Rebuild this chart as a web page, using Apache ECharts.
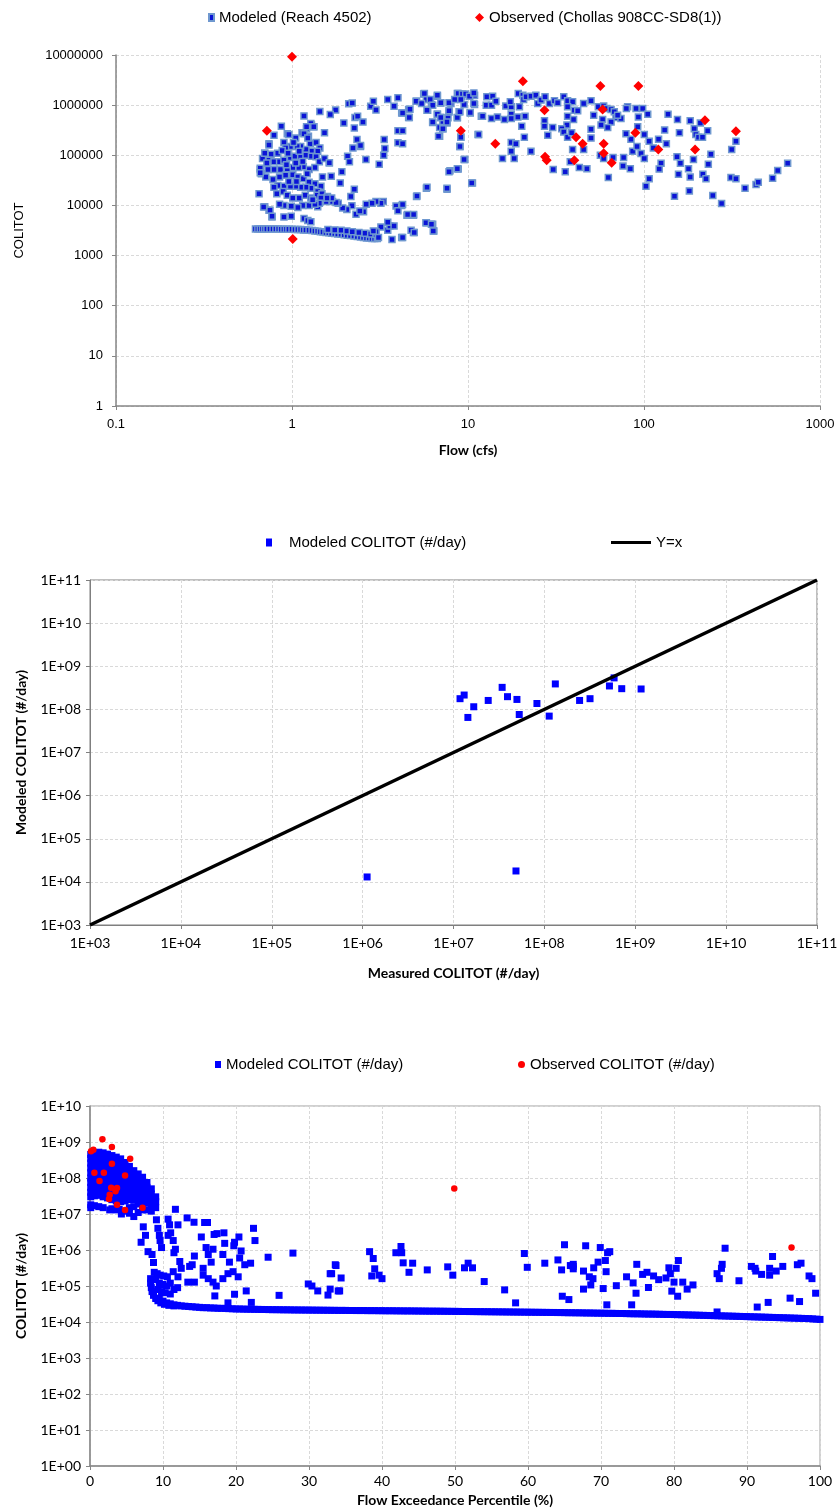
<!DOCTYPE html>
<html><head><meta charset="utf-8">
<script src="https://cdn.jsdelivr.net/npm/echarts@6/dist/echarts.min.js"></script>
<style>html,body{margin:0;padding:0;background:#fff}#c{width:839px;height:1512px}</style>
</head><body><div id="c"></div>
<script>
// ---------- tick labels ----------
const flowTickLabels = ['0.1','1','10','100','1000'];
const colTickLabels = ['1','10','100','1000','10000','100000','1000000','10000000'];
const sciTickLabels = ['1E+00','1E+01','1E+02','1E+03','1E+04','1E+05','1E+06','1E+07','1E+08','1E+09','1E+10','1E+11'];

// ---------- chart 1 : COLITOT vs Flow ----------
const modeledCluster = [[0.79,2.5e5],[0.90,1.8e5],[0.94,2.7e5],[0.96,2.6e5],[1.05,2.2e5],[1.14,2.8e5],[1.21,3.4e5],[1.29,4.0e5],[1.33,3.7e5],[1.24,2.4e5],[1.27,1.7e5],[1.37,1.8e5],[1.44,1.4e5],[1.40,1.2e5],[1.29,1.2e5],[1.20,1.3e5],[1.12,1.5e5],[1.07,1.5e5],[0.98,1.5e5],[0.92,1.4e5],[0.83,1.1e5],[0.76,1.05e5],[0.70,1.1e5],[0.68,8.6e4],[0.74,8.0e4],[0.79,7.4e4],[0.85,7.4e4],[0.90,8.0e4],[0.98,9.0e4],[1.04,9.6e4],[1.12,9.6e4],[1.20,1.0e5],[1.29,9.6e4],[1.37,9.3e4],[1.43,7.4e4],[1.35,5.7e4],[1.25,5.2e4],[1.16,5.9e4],[1.09,5.7e4],[1.01,5.7e4],[0.94,5.4e4],[0.86,5.2e4],[0.79,5.2e4],[0.73,5.2e4],[0.66,5.2e4],[0.67,4.3e4],[0.71,3.7e4],[0.78,3.3e4],[0.85,3.7e4],[0.92,4.0e4],[1.01,4.1e4],[1.08,3.7e4],[1.16,3.4e4],[1.25,2.9e4],[1.35,2.7e4],[1.46,2.4e4],[1.40,1.9e4],[1.28,2.2e4],[1.20,2.3e4],[1.12,2.3e4],[1.05,2.4e4],[0.98,2.4e4],[0.90,2.4e4],[0.83,2.5e4],[0.79,2.3e4],[0.82,1.7e4],[0.89,1.9e4],[0.94,1.6e4],[1.01,1.4e4],[1.10,1.4e4],[1.19,1.6e4],[1.28,1.4e4],[1.39,1.6e4],[1.48,1.7e4],[1.59,1.5e4],[1.70,1.2e4],[1.56,1.2e4],[1.45,1.2e4],[1.35,1.06e4],[1.25,1.0e4],[1.15,1.0e4],[1.08,9.1e3],[0.99,9.6e3],[0.90,1.0e4],[0.85,1.06e4],[0.74,8.0e3],[0.70,9.4e3],[0.65,1.7e4],[0.77,5.9e3],[0.90,5.9e3],[0.99,6.1e3],[1.17,5.5e3],[1.23,5.0e3],[1.28,4.7e3],[1.40,9.4e3],[1.49,3.7e4],[1.67,3.8e4],[1.63,7.1e4],[1.53,8.6e4],[0.87,3.8e5],[0.74,1.7e5],[0.69,9.3e3],[0.75,8.0e3],[0.77,6.1e3],[0.66,5.5e4],[0.66,4.5e4],[0.74,1.6e5],[0.70,1.1e5],[0.72,7.0e4],[0.88,1.25e5],[1.02,1.8e5],[1.10,1.2e5],[0.95,1.1e5],[1.05,7.0e4],[0.93,6.5e4],[1.15,7.5e4],[1.22,4.3e4],[0.96,3.0e4],[1.06,3.0e4]];
const modeledBand = [[0.62,3400],[0.64,3400],[0.66,3400],[0.68,3400],[0.70,3400],[0.72,3400],[0.75,3400],[0.78,3400],[0.81,3400],[0.84,3400],[0.87,3350],[0.90,3350],[0.93,3350],[0.96,3350],[1.0,3350],[1.04,3300],[1.08,3300],[1.12,3300],[1.16,3250],[1.2,3250],[1.25,3200],[1.3,3150],[1.35,3100],[1.4,3050],[1.45,3000],[1.5,2950],[1.56,2900],[1.62,2850],[1.68,2800],[1.75,2750],[1.82,2700],[1.9,2650],[1.98,2600],[2.06,2550],[2.15,2500],[2.25,2450],[2.35,2400],[2.45,2350],[2.55,2300],[2.65,2250],[2.75,2250],[2.85,2200],[2.95,2200],[3.05,2200],[1.6,3300],[1.75,3250],[1.9,3200],[2.05,3100],[2.2,3000],[2.4,2900],[2.6,2800],[2.8,2700],[3.0,2650]];
const modeledMid = [[2.1,1.07e6],[2.2,1.1e6],[2.8,9.5e5],[2.9,1.2e6],[3.0,8e5],[3.5,1.3e6],[4.0,1.4e6],[3.8,9.5e5],[4.2,7e5],[4.6,8.2e5],[4.6,5.7e5],[5.1,1.2e6],[5.6,1.66e6],[5.8,1.3e6],[6.2,1.03e6],[6.7,1.5e6],[7.0,1.1e6],[5.9,7.9e5],[6.7,6.6e5],[7.0,5.7e5],[6.3,4.5e5],[7.2,4.4e5],[7.6,4.4e5],[7.7,5.6e5],[7.8,7.3e5],[6.9,2.4e5],[7.2,3.4e5],[8.7,1.7e6],[9.2,1.5e6],[9.5,1.03e6],[8.9,7.4e5],[10.3,7e5],[10.9,1.03e6],[10.9,1.58e6],[10.2,1.5e6],[8.7,5.6e5],[9.1,2.3e5],[9.0,1.5e5],[9.6,8.2e4],[8.8,5.3e4],[7.9,4.9e4],[11.4,2.6e5],[10.6,2.8e4],[11.9,6e5],[7.6,2.1e4],[5.8,2.2e4],[5.1,1.5e4],[5.8,4500],[6.3,4200],[6.4,3100],[4.9,2900],[4.2,2300],[4.5,6400],[4.9,6400],[3.7,2100],[3.5,3200],[3.6,3900],[3.8,3900],[3.5,4600],[3.2,3700],[3.0,3000],[2.9,3100],[3.1,2300],[3.9,9700],[4.2,1.0e4],[4.0,7800],[3.3,1.2e4],[3.2,1.1e4],[3.0,1.2e4],[2.85,1.1e4],[2.64,1.05e4],[2.55,7500],[2.31,6700],[2.43,7700],[2.19,9900],[2.05,8300],[1.94,8900],[1.83,1.1e4],[1.78,1.15e4],[1.68,1.4e4],[1.58,1.4e4],[1.46,1.4e4],[1.43,1.1e4],[1.35,1.05e4],[1.31,1.3e4],[2.16,1.5e4],[2.26,2.1e4],[1.92,4.7e4],[1.88,2.8e4],[2.07,9.6e4],[2.12,7.4e4],[2.34,2.06e5],[2.45,1.5e5],[2.63,8.2e4],[2.28,5.7e5],[2.36,6.0e5],[2.53,4.6e5],[2.26,3.5e5],[1.97,4.4e5],[3.34,2.06e5],[3.37,1.37e5],[3.32,1e5],[3.13,6.6e4],[4.0,3.1e5],[4.0,1.77e5],[2.22,1.4e5],[2.45,1.57e5],[1.63,7.1e4],[1.53,2.8e5],[1.44,7.5e5],[1.77,8e5],[1.65,6.5e5],[1.17,6.1e5],[1.28,4.3e5],[1.33,3.7e5],[1.21,3.7e5],[1.17,2.7e5],[1.23,2.2e5]];
const modeledHigh = [[5.07,1.2e6],[5.45,1.08e6],[5.65,1.71e6],[6.1,1.3e6],[6.3,1.0e6],[6.7,1.58e6],[7.0,1.11e6],[5.85,7.9e5],[4.68,8.3e5],[4.64,5.7e5],[4.25,7.0e5],[4.25,3.1e5],[4.25,1.7e5],[6.3,4.6e5],[6.7,6.6e5],[7.0,5.7e5],[7.6,4.6e5],[6.9,3.6e5],[7.2,3.4e5],[6.8,2.4e5],[7.8,7.7e5],[8.0,1.08e6],[8.7,5.7e5],[9.0,7.4e5],[8.8,1.71e6],[9.3,1.66e6],[9.7,1.66e6],[10.2,1.51e6],[10.8,1.75e6],[10.8,1.08e6],[10.3,7.1e5],[9.1,2.3e5],[9.0,1.5e5],[9.5,8.2e4],[7.8,4.7e4],[8.7,5.4e4],[10.5,2.8e4],[7.6,2.2e4],[5.85,2.3e4],[5.13,1.55e4],[4.54,6.6e3],[4.91,6.6e3],[5.77,4.5e3],[6.2,4.2e3],[6.35,3.1e3],[4.75,3.2e3],[4.95,2.9e3],[4.25,2.3e3],[4.25,1.04e4],[7.8,1.11e6],[8.4,1.3e6],[9.1,1.3e6],
[11.5,2.6e5],[12.1,6.0e5],[12.7,1.0e6],[12.8,1.47e6],[13.8,1.51e6],[13.6,1.0e6],[14.4,1.2e6],[13.6,5.4e5],[14.7,5.8e5],[16.1,5.2e5],[16.4,9.6e5],[17.6,9.3e5],[17.4,1.17e6],[17.6,6.6e5],[17.6,5.4e5],[19.3,1.71e6],[20.5,1.58e6],[20.7,1.3e6],[21.4,1.47e6],[19.6,9.3e5],[19.2,5.8e5],[21.1,6.0e5],[20.2,3.8e5],[20.9,2.3e5],[17.6,1.8e5],[18.7,1.7e5],[17.6,1.2e5],[15.7,8.6e4],[18.3,8.6e4],[22.8,1.2e5],[22.8,1.51e6],[24.3,1.58e6],[24.9,1.08e6],[26.0,1.26e6],[27.4,1.47e6],[29.0,1.08e6],[31.0,1.22e6],[32.3,1.11e6],[35.0,1.47e6],[36.8,1.22e6],[39.3,1.17e6],[36.8,9.3e5],[36.8,6.0e5],[36.5,4.0e5],[27.2,4.9e5],[27.2,3.8e5],[30.3,3.6e5],[28.4,2.5e5],[34.1,3.4e5],[35.0,2.9e5],[36.8,2.3e5],[38.8,2.8e5],[39.8,5.2e5],[40.2,7.9e5],[42.0,7.7e5],[39.3,1.3e5],[38.1,7.4e4],[42.9,5.7e4],[47.4,5.4e4],[35.7,4.7e4],[30.5,5.2e4],
[45.4,1.08e6],[50.0,1.22e6],[51.8,6.3e5],[55.0,9.3e5],[58.2,5.2e5],[59.0,9.6e5],[61.6,8.6e5],[65.0,8.2e5],[67.8,7.4e5],[69.3,5.7e5],[74.0,5.4e5],[70.8,6.3e5],[65.0,4.6e5],[62.2,3.6e5],[57.0,4.0e5],[50.0,3.3e5],[50.0,2.2e5],[45.4,1.3e5],[56.5,1.0e5],[59.0,8.6e4],[66.7,9.0e4],[62.7,3.6e4],[76.6,9.0e4],[76.0,6.1e4],[83.6,5.4e4],[86.2,1.2e5],[84.3,2.1e5],[79.0,2.7e5],[91.3,1.5e5],[96.2,1.08e5],[100.4,8.6e4],[92.1,3.7e5],[92.9,5.8e5],[100.4,2.6e5],[98.3,8.6e5],[90.1,8.6e5],[80.7,9.3e5],[105,6.6e5],[107,1.9e5],[113,1.4e5],[121,2.1e5],[131,3.2e5],[134,1.7e5],[125,6.9e4],[122,5.3e4],[107,3.4e4],[102.6,2.4e4],[79.4,8.6e5],
[137,6.6e5],[155,5.2e5],[159,2.8e5],[154,9.3e4],[161,6.9e4],[157,4.2e4],[179,5.4e4],[183,3.7e4],[181,1.95e4],[149,1.53e4],[183,4.9e5],[193,3.4e5],[197,2.6e5],[204,2.3e5],[215,2.3e5],[209,4.4e5],[230,3.1e5],[191,8.2e4],[216,4.2e4],[225,3.4e4],[232,6.6e4],[240,1.05e5],[246,1.57e4],[276,1.09e4],[315,1.3e5],[333,1.9e5],[312,3.6e4],[333,3.4e4],[375,2.2e4],[433,2.6e4],[446,2.9e4],[538,3.5e4],[575,5.0e4],[655,6.9e4]];
const observedChollas = [[1.0,9.2e6],[0.72,3.07e5],[1.01,2140],[20.5,3.0e6],[27.2,7.9e5],[9.1,3.1e5],[14.3,1.7e5],[27.4,9.3e4],[28.0,8.0e4],[40.2,8.0e4],[41.1,2.3e5],[44.8,1.7e5],[56.5,2.4e6],[58.2,8.2e5],[59.0,1.7e5],[59.0,1.1e5],[65.5,7.1e4],[89.3,2.8e5],[92.9,2.4e6],[120.6,1.3e5],[195,1.3e5],[222,5.0e5],[333,3.0e5]];

// ---------- chart 2 : modeled vs measured ----------
const measuredModeled = [[1.18e7,1.77e8],[1.31e7,2.15e8],[1.44e7,6.5e7],[1.67e7,1.15e8],[2.41e7,1.61e8],[3.43e7,3.24e8],[3.93e7,1.97e8],[4.99e7,1.70e8],[5.29e7,7.6e7],[8.28e7,1.37e8],[1.13e8,6.98e7],[1.32e8,3.89e8],[2.44e8,1.61e8],[3.18e8,1.77e8],[5.2e8,3.49e8],[5.85e8,5.37e8],[7.1e8,3.02e8],[1.16e9,2.97e8],[4.87e7,1.79e4],[1.12e6,1.30e4]];
const identityLine = [[1e3,1e3],[1e11,1e11]];

// ---------- chart 3 : flow duration ----------
const durCluster = [[0.1,4.5e8],[0.1,3.5e8],[0.1,2.6e8],[0.1,1.9e8],[0.1,1.4e8],[0.1,1.0e8],[0.1,7.5e7],[0.1,5.5e7],[0.1,4.0e7],[0.1,3.0e7],[0.1,1.8e7],[0.1,1.5e7],
[0.6,5.0e8],[0.6,3.8e8],[0.6,2.8e8],[0.6,2.0e8],[0.6,1.5e8],[0.6,1.1e8],[0.6,8.0e7],[0.6,6.0e7],[0.6,4.4e7],[0.6,3.2e7],[0.6,1.7e7],
[1.2,5.2e8],[1.2,3.9e8],[1.2,2.9e8],[1.2,2.1e8],[1.2,1.6e8],[1.2,1.2e8],[1.2,8.5e7],[1.2,6.2e7],[1.2,4.5e7],[1.2,3.3e7],[1.2,1.6e7],
[1.8,5.0e8],[1.8,3.7e8],[1.8,2.7e8],[1.8,2.0e8],[1.8,1.5e8],[1.8,1.1e8],[1.8,8.0e7],[1.8,6.0e7],[1.8,4.3e7],[1.8,3.0e7],[1.8,1.5e7],
[2.4,4.6e8],[2.4,3.4e8],[2.4,2.5e8],[2.4,1.9e8],[2.4,1.4e8],[2.4,1.0e8],[2.4,7.5e7],[2.4,5.5e7],[2.4,4.0e7],[2.4,2.8e7],
[3.0,4.2e8],[3.0,3.1e8],[3.0,2.3e8],[3.0,1.7e8],[3.0,1.3e8],[3.0,9.5e7],[3.0,7.0e7],[3.0,5.0e7],[3.0,3.6e7],[3.0,2.5e7],[3.0,1.4e7],
[3.6,3.8e8],[3.6,2.8e8],[3.6,2.1e8],[3.6,1.5e8],[3.6,1.1e8],[3.6,8.5e7],[3.6,6.2e7],[3.6,4.5e7],[3.6,3.3e7],[3.6,2.3e7],[3.6,1.3e7],
[4.2,3.4e8],[4.2,2.5e8],[4.2,1.9e8],[4.2,1.4e8],[4.2,1.0e8],[4.2,7.5e7],[4.2,5.5e7],[4.2,4.0e7],[4.2,3.0e7],[4.2,2.2e7],
[4.8,2.7e8],[4.8,2.0e8],[4.8,1.5e8],[4.8,1.1e8],[4.8,8.2e7],[4.8,6.0e7],[4.8,4.4e7],[4.8,3.2e7],[4.8,2.3e7],[4.8,1.2e7],
[5.4,2.1e8],[5.4,1.6e8],[5.4,1.2e8],[5.4,9.0e7],[5.4,6.5e7],[5.4,4.8e7],[5.4,3.5e7],[5.4,2.5e7],[5.4,1.5e7],
[6.0,1.6e8],[6.0,1.2e8],[6.0,9.0e7],[6.0,6.6e7],[6.0,4.8e7],[6.0,3.5e7],[6.0,2.5e7],[6.0,1.6e7],[6.0,8.5e6],
[6.6,1.3e8],[6.6,9.5e7],[6.6,7.0e7],[6.6,5.2e7],[6.6,3.8e7],[6.6,2.7e7],[6.6,1.9e7],[6.6,1.1e7],
[7.2,1.05e8],[7.2,7.8e7],[7.2,5.7e7],[7.2,4.2e7],[7.2,3.0e7],[7.2,2.1e7],[7.2,1.3e7],
[7.8,7.5e7],[7.8,5.5e7],[7.8,4.0e7],[7.8,2.9e7],[7.8,2.0e7],[7.8,1.3e7],
[8.4,5.0e7],[8.4,3.6e7],[8.4,2.6e7],[8.4,1.8e7],[8.4,1.2e7],
[9.0,3.0e7],[9.0,2.2e7],[9.0,1.5e7],
[2.7,1.3e7],[4.0,1.35e7],[4.3,1.0e7],[5.4,1.05e7]];
const durScatter = [[7.3,4.4e6],[7.6,2.55e6],[7.0,1.64e6],[7.95,9.0e5],[8.5,7.5e5],[8.7,4.5e5],[9.1,6.9e6],[9.3,4.0e6],[9.5,2.55e6],[9.6,1.83e6],[9.8,1.17e6],[10.7,7.2e6],[10.9,5.0e6],[11.05,3.0e6],[10.7,2.55e6],[11.4,1.83e6],[11.7,1.05e6],[11.5,8.4e5],[12.05,5.0e6],[11.7,1.35e7],[12.3,4.8e5],[12.5,3.1e5],[13.3,7.8e6],[14.25,5.9e6],[13.65,3.5e5],[14.0,3.9e5],[14.3,6.8e5],[15.25,2.3e6],[15.5,3.1e5],[15.7,5.8e6],[16.1,5.8e6],[15.9,1.17e6],[16.2,7.5e5],[16.6,4.6e5],[16.85,1.05e6],[17.0,2.7e6],[17.4,2.85e6],[18.35,3.0e6],[18.45,1.53e6],[18.2,7.5e5],[19.1,4.6e5],[19.7,1.31e6],[19.8,1.64e6],[20.4,2.3e6],[20.7,9.4e5],[20.5,6.0e5],[21.2,3.9e5],[22.0,4.3e5],[22.4,4.0e6],[22.6,1.83e6],[24.4,6.3e5],[27.8,8.2e5],[29.9,1.14e5],[30.4,1.0e5],[31.2,7.3e4],[32.6,5.6e4],[32.9,2.2e5],[33.6,3.9e5],[34.0,7.3e4],
[11.4,2.5e5],[12.05,1.8e5],[13.4,1.28e5],[14.3,1.28e5],[15.5,2.0e5],[16.2,1.6e5],[16.85,1.28e5],[17.3,1.0e5],[18.2,1.6e5],[18.9,2.2e5],[19.6,2.5e5],[20.3,1.8e5],[19.8,5.9e4],[21.4,7.3e4],[18.9,3.4e4],[22.1,3.5e4],[17.1,5.3e4],[25.9,5.5e4],
[8.3,1.6e5],[8.3,1.2e5],[8.4,9e4],[8.5,7e4],[8.7,5.5e4],[9.0,4.5e4],[9.3,3.9e4],[9.7,3.4e4],[10.2,3.1e4],[10.8,2.9e4],[11.5,2.8e4],[8.8,2.4e5],[9.2,2.2e5],[9.6,2.0e5],[10.1,1.9e5],[10.6,1.8e5],[9.0,1.5e5],[9.5,1.2e5],[10.0,1.1e5],[10.5,1.0e5],[11.0,1.2e5],[9.3,8e4],[9.8,7e4],[10.3,6.5e4],[11.0,6e4],[11.5,8e4],[12.0,9e4],
[33.1,2.2e5],[33.7,3.7e5],[34.4,1.67e5],[32.9,8.2e4],[34.2,7.3e4],[38.3,9.0e5],[38.8,5.8e5],[39.0,3.0e5],[38.6,1.9e5],[39.6,2.0e5],[40.0,1.6e5],[41.9,8.4e5],[42.6,1.25e6],[42.7,8.4e5],[42.9,4.4e5],[44.2,4.3e5],[43.7,2.4e5],[46.2,2.8e5],[49.0,3.4e5],[49.7,2.0e5],[51.3,3.2e5],[51.8,4.3e5],[52.4,3.2e5],[54.0,1.33e5],[56.8,7.8e4],[58.3,3.4e4],[59.5,8.0e5],[59.9,3.3e5],[62.3,4.3e5],[64.1,5.3e5],[64.6,2.8e5],[65.0,1.4e6],[65.8,3.7e5],[66.2,4.0e5],[66.2,3.0e5],[64.7,5.2e4],[65.6,4.2e4],
[66.2,3.5e5],[67.6,2.6e5],[68.4,1.8e5],[68.9,1.6e5],[68.6,1.07e5],[67.6,8.2e4],[67.9,1.31e6],[69.9,1.17e6],[69.0,3.2e5],[69.6,4.6e5],[70.6,5.1e5],[70.7,2.5e5],[70.9,8.4e5],[71.2,9.0e5],[70.3,8.5e4],[70.8,3.0e4],[72.1,1.02e5],[73.5,1.8e5],[74.4,1.22e5],[74.2,3.0e4],[74.8,6.3e4],[74.9,4.0e5],[75.7,2.1e5],[76.3,2.4e5],[77.2,1.9e5],[76.5,9.1e4],[77.9,1.5e5],[78.9,1.67e5],[79.5,2.2e5],[79.3,3.2e5],[80.3,3.1e5],[80.6,5.1e5],[80.0,1.28e5],[79.7,7.2e4],[80.5,5.2e4],[81.2,1.28e5],[81.8,8.2e4],[82.6,1.07e5],[85.9,1.9e4],[85.9,2.2e5],[86.2,1.6e5],[86.5,3.1e5],[86.6,4.0e5],[87.0,1.12e6],[88.9,1.4e5],[90.6,3.5e5],[91.1,3.1e5],[91.2,2.6e5],[91.4,2.6e4],[92.0,2.1e5],[92.9,3.5e4],[93.1,3.1e5],[93.1,2.0e5],[93.5,6.6e5],[94.0,2.6e5],[94.9,3.5e5],[95.9,4.6e4],[96.9,3.9e5],[97.4,4.3e5],[97.2,3.7e4],[98.5,1.9e5],[98.9,1.6e5],[99.4,6.3e4]];
const durBaseline = [[9.5,4.6e4],[10,3.8e4],[10.5,3.4e4],[11,3.2e4],[11.5,3.0e4],[12,2.9e4],[12.5,2.8e4],[13,2.75e4],[13.5,2.7e4],[14,2.65e4],[14.5,2.6e4],[15,2.55e4],[15.5,2.5e4],[16,2.5e4],[16.5,2.45e4],[17,2.45e4],[17.5,2.4e4],[18,2.4e4],[18.5,2.38e4],[19,2.35e4],[19.5,2.33e4],[20,2.3e4],[20.5,2.3e4],[21,2.28e4],[21.5,2.27e4],[22,2.26e4],[22.5,2.25e4],[23,2.24e4],[23.5,2.23e4],[24,2.22e4],[24.5,2.21e4],[25,2.2e4],[25.5,2.2e4],[26,2.19e4],[26.5,2.18e4],[27,2.18e4],[27.5,2.17e4],[28,2.16e4],[28.5,2.16e4],[29,2.15e4],[29.5,2.15e4],[30,2.14e4],[30.5,2.14e4],[31,2.13e4],[31.5,2.13e4],[32,2.12e4],[32.5,2.12e4],[33,2.11e4],[33.5,2.11e4],[34,2.1e4],[34.5,2.1e4],[35,2.1e4],[35.5,2.09e4],[36,2.09e4],[36.5,2.08e4],[37,2.08e4],[37.5,2.08e4],[38,2.07e4],[38.5,2.07e4],[39,2.07e4],[39.5,2.06e4],[40,2.06e4],[40.5,2.05e4],[41,2.05e4],[41.5,2.05e4],[42,2.04e4],[42.5,2.04e4],[43,2.03e4],[43.5,2.03e4],[44,2.03e4],[44.5,2.02e4],[45,2.02e4],[45.5,2.01e4],[46,2.01e4],[46.5,2.0e4],[47,2.0e4],[47.5,2.0e4],[48,1.99e4],[48.5,1.99e4],[49,1.98e4],[49.5,1.98e4],[50,1.97e4],[50.5,1.97e4],[51,1.96e4],[51.5,1.96e4],[52,1.95e4],[52.5,1.95e4],[53,1.94e4],[53.5,1.94e4],[54,1.93e4],[54.5,1.93e4],[55,1.92e4],[55.5,1.92e4],[56,1.91e4],[56.5,1.91e4],[57,1.9e4],[57.5,1.9e4],[58,1.89e4],[58.5,1.89e4],[59,1.88e4],[59.5,1.88e4],[60,1.87e4],[60.5,1.87e4],[61,1.86e4],[61.5,1.86e4],[62,1.85e4],[62.5,1.85e4],[63,1.84e4],[63.5,1.84e4],[64,1.83e4],[64.5,1.83e4],[65,1.82e4],[65.5,1.81e4],[66,1.81e4],[66.5,1.8e4],[67,1.8e4],[67.5,1.79e4],[68,1.78e4],[68.5,1.78e4],[69,1.77e4],[69.5,1.76e4],[70,1.76e4],[70.5,1.75e4],[71,1.74e4],[71.5,1.74e4],[72,1.73e4],[72.5,1.72e4],[73,1.72e4],[73.5,1.71e4],[74,1.7e4],[74.5,1.69e4],[75,1.69e4],[75.5,1.68e4],[76,1.67e4],[76.5,1.66e4],[77,1.66e4],[77.5,1.65e4],[78,1.64e4],[78.5,1.63e4],[79,1.62e4],[79.5,1.62e4],[80,1.61e4],[80.5,1.6e4],[81,1.59e4],[81.5,1.58e4],[82,1.57e4],[82.5,1.56e4],[83,1.55e4],[83.5,1.54e4],[84,1.53e4],[84.5,1.52e4],[85,1.51e4],[85.5,1.5e4],[86,1.49e4],[86.5,1.48e4],[87,1.47e4],[87.5,1.46e4],[88,1.45e4],[88.5,1.44e4],[89,1.43e4],[89.5,1.42e4],[90,1.41e4],[90.5,1.4e4],[91,1.39e4],[91.5,1.38e4],[92,1.37e4],[92.5,1.36e4],[93,1.35e4],[93.5,1.34e4],[94,1.33e4],[94.5,1.32e4],[95,1.31e4],[95.5,1.3e4],[96,1.29e4],[96.5,1.28e4],[97,1.27e4],[97.5,1.26e4],[98,1.25e4],[98.5,1.24e4],[99,1.22e4],[99.5,1.2e4],[100,1.18e4]];
const durObserved = [[1.7,1.2e9],[3.0,7.3e8],[0.14,5.5e8],[0.46,6.1e8],[5.5,3.4e8],[3.0,2.5e8],[0.6,1.4e8],[1.9,1.4e8],[1.3,8.3e7],[4.8,1.18e8],[2.9,5.4e7],[3.7,5.3e7],[3.5,4.3e7],[2.7,3.4e7],[2.6,2.6e7],[3.7,1.8e7],[4.8,1.29e7],[7.2,1.5e7],[49.9,5.1e7],[96.1,1.17e6]];

// ---------- build ----------
const logIdx = v => Math.round(Math.log10(v));
const tickFont = {fontFamily:'Liberation Sans, Arial, sans-serif', fontSize:13, color:'#000'};
const tickFont2 = {fontFamily:'Lato, Liberation Sans, sans-serif', fontSize:14, color:'#000'};
const boldName = {fontFamily:'Lato, Liberation Sans, sans-serif', fontSize:14, fontWeight:'bold', color:'#000'};
const legendFont = {fontFamily:'Liberation Sans, Arial, sans-serif', fontSize:15, color:'#000'};
const gridLine = {show:true, lineStyle:{color:'#d9d9d9', type:[3,2], width:1}};
const axLine = {show:true, lineStyle:{color:'#868686', width:1.5}};
const axTick = {show:true, length:4, lineStyle:{color:'#868686'}};
const lg = (name, icon, left, top, w, h, extra) => Object.assign({data:[{name:name, icon:icon}], left:left, top:top, padding:0, itemWidth:w, itemHeight:h, textStyle:legendFont, selectedMode:false}, extra || {});

const option = {
  animation:false,
  backgroundColor:'#fff',
  grid:[
    {left:116, top:55, width:704, height:351, outerBoundsMode:'none'},
    {left:90, top:580, width:727, height:345, show:true, borderColor:'#7f7f7f', borderWidth:1, outerBoundsMode:'none'},
    {left:90, top:1106, width:730, height:360, show:true, borderColor:'#a0a0a0', borderWidth:1, outerBoundsMode:'none'}
  ],
  legend:[
    lg('Modeled (Reach 4502)', 'rect', 208, 10, 5, 7),
    lg('Observed (Chollas 908CC-SD8(1))', 'diamond', 475, 10, 9, 9),
    lg('Modeled COLITOT (#/day)', 'rect', 266, 535, 6, 8, {textStyle:Object.assign({padding:[0,0,0,12]}, legendFont)}),
    {data:[{name:'Y=x', icon:'rect', itemStyle:{color:'#000'}}], left:611, top:535, padding:0, itemWidth:40, itemHeight:3, textStyle:legendFont, selectedMode:false},
    lg('Modeled COLITOT (#/day) ', 'rect', 215, 1057, 6, 7),
    lg('Observed COLITOT (#/day)', 'circle', 518, 1057, 7, 7)
  ],
  xAxis:[
    {gridIndex:0, type:'log', logBase:10, min:0.1, max:1000, interval:1, splitNumber:4,
     axisLine:axLine, axisTick:axTick, splitLine:gridLine, minorTick:{show:false}, minorSplitLine:{show:false},
     axisLabel:Object.assign({margin:12, formatter:v=>flowTickLabels[logIdx(v)+1]}, tickFont),
     name:'Flow (cfs)', nameLocation:'middle', nameGap:37, nameTextStyle:boldName},
    {gridIndex:1, type:'log', logBase:10, min:1e3, max:1e11, interval:1, splitNumber:8,
     axisLine:{show:true, lineStyle:{color:'#7f7f7f', width:1}}, axisTick:{show:true, length:4, lineStyle:{color:'#7f7f7f'}}, splitLine:gridLine,
     axisLabel:Object.assign({margin:11, formatter:v=>sciTickLabels[logIdx(v)]}, tickFont2),
     name:'Measured COLITOT (#/day)', nameLocation:'middle', nameGap:41, nameTextStyle:boldName},
    {gridIndex:2, type:'value', min:0, max:100, interval:10,
     axisLine:axLine, axisTick:axTick, splitLine:gridLine,
     axisLabel:Object.assign({margin:8}, tickFont2),
     name:'Flow Exceedance Percentile (%)', nameLocation:'middle', nameGap:27, nameTextStyle:boldName}
  ],
  yAxis:[
    {gridIndex:0, type:'log', logBase:10, min:1, max:1e7, interval:1, splitNumber:7,
     axisLine:axLine, axisTick:axTick, splitLine:gridLine, minorTick:{show:false},
     axisLabel:Object.assign({margin:13, formatter:v=>colTickLabels[logIdx(v)]}, tickFont),
     name:'COLITOT', nameLocation:'middle', nameRotate:90, nameGap:90, nameTextStyle:{fontFamily:'Liberation Sans, Arial, sans-serif', fontSize:13, color:'#000'}},
    {gridIndex:1, type:'log', logBase:10, min:1e3, max:1e11, interval:1, splitNumber:8,
     axisLine:{show:true, lineStyle:{color:'#7f7f7f', width:1}}, axisTick:{show:true, length:4, lineStyle:{color:'#7f7f7f'}}, splitLine:gridLine,
     axisLabel:Object.assign({margin:9, formatter:v=>sciTickLabels[logIdx(v)]}, tickFont2),
     name:'Modeled COLITOT (#/day)', nameLocation:'middle', nameRotate:90, nameGap:62, nameTextStyle:boldName},
    {gridIndex:2, type:'log', logBase:10, min:1, max:1e10, interval:1, splitNumber:10,
     axisLine:axLine, axisTick:axTick, splitLine:gridLine,
     axisLabel:Object.assign({margin:9, formatter:v=>sciTickLabels[logIdx(v)]}, tickFont2),
     name:'COLITOT (#/day)', nameLocation:'middle', nameRotate:90, nameGap:62, nameTextStyle:boldName}
  ],
  series:[
    {name:'Modeled (Reach 4502)', type:'scatter', xAxisIndex:0, yAxisIndex:0, symbol:'rect', symbolSize:6,
     itemStyle:{color:'#0a14d6', borderColor:'#6f98cf', borderWidth:1.5, opacity:1},
     data:[].concat(modeledBand, modeledCluster, modeledMid, modeledHigh), z:2},
    {name:'Observed (Chollas 908CC-SD8(1))', type:'scatter', xAxisIndex:0, yAxisIndex:0, symbol:'diamond', symbolSize:10,
     itemStyle:{color:'#ff0000', opacity:1}, data:observedChollas, z:3},
    {name:'Modeled COLITOT (#/day)', type:'scatter', xAxisIndex:1, yAxisIndex:1, symbol:'rect', symbolSize:7,
     itemStyle:{color:'#0000ff', opacity:1}, data:measuredModeled, z:2},
    {name:'Y=x', type:'line', xAxisIndex:1, yAxisIndex:1, symbol:'none', lineStyle:{color:'#000', width:3.5},
     itemStyle:{color:'#000'}, data:identityLine, z:3},
    {name:'Modeled COLITOT (#/day) ', type:'scatter', xAxisIndex:2, yAxisIndex:2, symbol:'rect', symbolSize:7,
     itemStyle:{color:'#0000ff', opacity:1}, data:[].concat(durBaseline, durCluster, durScatter), z:2},
    {name:'Observed COLITOT (#/day)', type:'scatter', xAxisIndex:2, yAxisIndex:2, symbol:'circle', symbolSize:6.5,
     itemStyle:{color:'#ff0000', opacity:1}, data:durObserved, z:3}
  ]
};
const chart = echarts.init(document.getElementById('c'));
chart.setOption(option);
</script></body></html>
